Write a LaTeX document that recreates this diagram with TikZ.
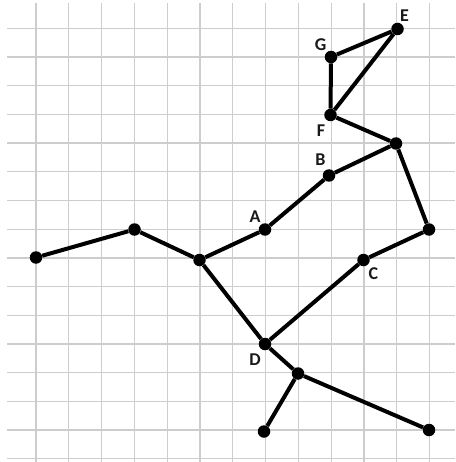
\documentclass[tikz,border=0pt]{standalone}
\usepackage{fontspec}
\setmainfont{Carlito}
\definecolor{gridgray}{RGB}{205,205,205}
\begin{document}
\begin{tikzpicture}[x=1pt,y=-1pt,
  dot/.style={circle,fill=black,minimum size=12.5pt,inner sep=0pt},
  edge/.style={line width=4pt,black},
  lbl/.style={font=\fontsize{18}{18}\selectfont\bfseries,inner sep=0pt,text=black!90}]
\useasboundingbox (0,0) rectangle (455,462);
\fill[white] (0,0) rectangle (455,462);
% grid
\foreach \i in {1,...,13} {\draw[gridgray,line width=1.3pt] ({3.2+32.8*\i},3) -- ({3.2+32.8*\i},462);}
\foreach \j in {0,...,15} {\draw[gridgray,line width=1.3pt] (7,{28.3+28.7*\j}) -- (455,{28.3+28.7*\j});}
% nodes
\node[dot] (L) at (36,257.5) {};
\node[dot] (M) at (134.5,229.5) {};
\node[dot] (H) at (199.5,260) {};
\node[dot] (A) at (265,229.5) {};
\node[dot] (B) at (329,175.5) {};
\node[dot] (K) at (396,143.5) {};
\node[dot] (F) at (330.5,115) {};
\node[dot] (G) at (331,57) {};
\node[dot] (E) at (397.5,29) {};
\node[dot] (R) at (429,229.5) {};
\node[dot] (C) at (363.5,260) {};
\node[dot] (D) at (265,344) {};
\node[dot] (P) at (298,373.5) {};
\node[dot] (Q) at (264,431.5) {};
\node[dot] (S) at (429,430) {};
% edges
\draw[edge] (L) -- (M) -- (H) -- (A) -- (B) -- (K) -- (F) -- (G) -- (E) -- (F);
\draw[edge] (K) -- (R) -- (C) -- (D);
\draw[edge] (H) -- (D) -- (P) -- (Q);
\draw[edge] (P) -- (S);
% labels
\node[lbl] (lE) at (404.5,16) {E};
\node[lbl] (lG) at (320.5,44.5) {G};
\node[lbl] (lF) at (321,131) {F};
\node[lbl] (lB) at (320.5,159.5) {B};
\node[lbl] (lA) at (255,216.5) {A};
\node[lbl] (lC) at (373.5,273.5) {C};
\node[lbl] (lD) at (255,359.5) {D};
\end{tikzpicture}
\end{document}
